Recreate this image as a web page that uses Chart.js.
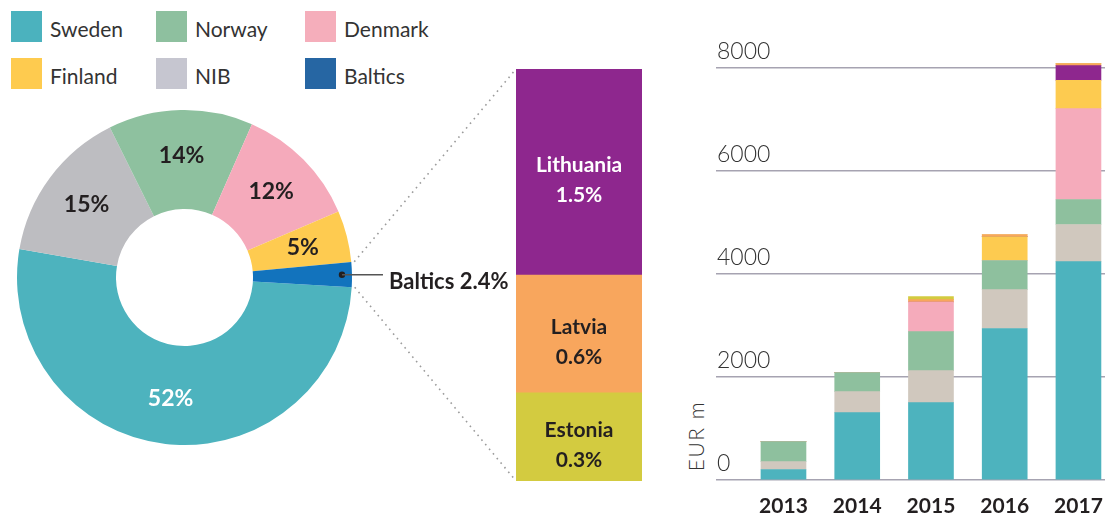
<!DOCTYPE html>
<html>
<head>
<meta charset="utf-8">
<script src="https://cdn.jsdelivr.net/npm/chart.js@4.4.1/dist/chart.umd.min.js"></script>
<style>
  html, body { margin: 0; padding: 0; background: #fff; overflow: hidden; }
  #page { position: relative; width: 1105px; height: 515px; font-family: Lato, "Open Sans", sans-serif; }
  canvas { position: absolute; }
  .item { position: absolute; height: 31px; display: flex; align-items: center; font-size: 21px; color: #333; white-space: nowrap; }
  .item .box { width: 31px; height: 31px; margin-right: 8px; }
  .item .txt { padding-top: 3px; }
  #unit { position: absolute; left: 695px; top: 436px; transform: translate(-50%, -50%) rotate(-90deg); font-size: 21px; font-weight: 300; letter-spacing: 1.5px; color: #333; white-space: nowrap; }
</style>
</head>
<body>
<div id="page">
  <div id="legend"></div>
  <canvas id="pie" width="520" height="370" style="left:0;top:100px"></canvas>
  <canvas id="baltic" width="320" height="460" style="left:340px;top:40px"></canvas>
  <canvas id="bars" width="391" height="515" style="left:714px;top:0"></canvas>
  <div id="unit">EUR m</div>
</div>
<script>
// legend
const legendLabels = ["Sweden", "Norway", "Denmark", "Finland", "NIB", "Baltics"];
const legendColors = ["#4bb2be", "#8ec09f", "#f5aebb", "#fecb4f", "#c6c6d0", "#2666a3"];

// doughnut, share in %
const shareLabels = ["Sweden", "NIB", "Norway", "Denmark", "Finland", "Baltics"];
const shareValues = [52, 15, 14, 12, 5, 2.4];
const shareColors = ["#4db3be", "#bdbdc1", "#8ec19f", "#f5aabb", "#fecb50", "#1273bd"];

// baltic breakdown (the segments in the picture are not drawn to scale)
const balticLabels = ["Estonia", "Latvia", "Lithuania"];
const balticValues = [0.3, 0.6, 1.5];
const balticDrawn = [21.4, 28.6, 50.0];
const balticColors = ["#d3cb40", "#f8a65d", "#8e278e"];

// yearly stacked bars, EUR m
const years = [2013, 2014, 2015, 2016, 2017];
const sweden    = [200, 1305, 1500, 2940, 4240];
const nib       = [155, 410, 620, 755, 720];
const norway    = [390, 370, 760, 565, 485];
const denmark   = [0, 0, 575, 0, 1765];
const finland   = [0, 0, 0, 465, 550];
const lithuania = [0, 0, 0, 0, 285];
const latvia    = [0, 0, 45, 40, 40];
const estonia   = [0, 0, 58, 0, 0];
const yTicks = [0, 2000, 4000, 6000, 8000];

// build the html legend
const legendEl = document.getElementById("legend");
legendLabels.forEach((name, i) => {
    const div = document.createElement("div");
    div.className = "item";
    div.style.left = (11 + [0, 145, 294][i % 3]) + "px";
    div.style.top = (11 + Math.floor(i / 3) * 47) + "px";
    div.innerHTML = '<span class="box" style="background:' + legendColors[i] + '"></span><span class="txt">' + name + "</span>";
    legendEl.appendChild(div);
});

let pieChart = null;

function build() {
    // percent labels and the Baltics callout on the doughnut
    const pieLabels = {
        id: "pieLabels",
        afterDatasetsDraw(chart) {
            const ctx = chart.ctx;
            const meta = chart.getDatasetMeta(0);
            ctx.save();
            meta.data.forEach((arc, i) => {
                const p = arc.getProps(["x", "y", "startAngle", "endAngle", "innerRadius", "outerRadius"], true);
                const mid = (p.startAngle + p.endAngle) / 2;
                if (shareLabels[i] === "Baltics") {
                    const r = p.outerRadius - 10;
                    const dx = p.x + Math.cos(mid) * r;
                    const dy = p.y + Math.sin(mid) * r;
                    ctx.fillStyle = "#231f20";
                    ctx.beginPath();
                    ctx.arc(dx, dy, 3.2, 0, Math.PI * 2);
                    ctx.fill();
                    ctx.strokeStyle = "#555";
                    ctx.lineWidth = 1.5;
                    ctx.beginPath();
                    ctx.moveTo(dx, dy);
                    ctx.lineTo(dx + 41, dy);
                    ctx.stroke();
                    ctx.font = "bold 22px Lato";
                    ctx.textAlign = "left";
                    ctx.textBaseline = "alphabetic";
                    ctx.fillText(shareLabels[i] + " " + shareValues[i] + "%", dx + 47, dy + 14);
                } else {
                    const r = (p.innerRadius + p.outerRadius) / 2 + 4;
                    ctx.font = "bold 23px Lato";
                    ctx.textAlign = "center";
                    ctx.textBaseline = "middle";
                    ctx.fillStyle = i === 0 ? "#fff" : "#231f20";
                    ctx.fillText(shareValues[i] + "%", p.x + Math.cos(mid) * r, p.y + Math.sin(mid) * r);
                }
            });
            ctx.restore();
        }
    };

    pieChart = new Chart(document.getElementById("pie"), {
        type: "doughnut",
        data: {
            labels: shareLabels,
            datasets: [{ data: shareValues, backgroundColor: shareColors, borderWidth: 0 }]
        },
        options: {
            responsive: false,
            animation: false,
            events: [],
            rotation: 93.3,
            cutout: "40.9%",
            layout: { padding: { left: 17, right: 168, top: 10, bottom: 25 } },
            plugins: { legend: { display: false }, tooltip: { enabled: false } }
        },
        plugins: [pieLabels]
    });

    // dotted connectors and segment labels on the baltic bar
    const balticDecor = {
        id: "balticDecor",
        afterDatasetsDraw(chart) {
            const ctx = chart.ctx;
            ctx.save();
            // connectors from the Baltics slice to the bar corners
            const arcs = pieChart.getDatasetMeta(0).data;
            const arc = arcs[shareLabels.indexOf("Baltics")];
            const p = arc.getProps(["x", "y", "startAngle", "endAngle", "outerRadius"], true);
            const pr = pieChart.canvas.getBoundingClientRect();
            const br = chart.canvas.getBoundingClientRect();
            const ox = pr.left - br.left, oy = pr.top - br.top;
            const topBar = chart.getDatasetMeta(balticLabels.length - 1).data[0];
            const lowBar = chart.getDatasetMeta(0).data[0];
            const r = p.outerRadius + 3;
            const lines = [
                [p.startAngle, topBar.x - topBar.width / 2, topBar.y],
                [p.endAngle, lowBar.x - lowBar.width / 2, lowBar.base]
            ];
            ctx.strokeStyle = "#9b9b9b";
            ctx.lineWidth = 1.6;
            ctx.setLineDash([1.6, 4.4]);
            lines.forEach(l => {
                ctx.beginPath();
                ctx.moveTo(ox + p.x + Math.cos(l[0]) * r, oy + p.y + Math.sin(l[0]) * r);
                ctx.lineTo(l[1], l[2]);
                ctx.stroke();
            });
            ctx.setLineDash([]);
            // labels
            ctx.font = "bold 21px Lato";
            ctx.textAlign = "center";
            ctx.textBaseline = "middle";
            balticLabels.forEach((name, i) => {
                const bar = chart.getDatasetMeta(i).data[0];
                const cy = (bar.y + bar.base) / 2 + 8;
                ctx.fillStyle = name === "Lithuania" ? "#fff" : "#231f20";
                ctx.fillText(name, bar.x, cy - 15);
                ctx.fillText(balticValues[i] + "%", bar.x, cy + 15);
            });
            ctx.restore();
        }
    };

    new Chart(document.getElementById("baltic"), {
        type: "bar",
        data: {
            labels: ["Baltics"],
            datasets: balticLabels.map((name, i) => ({
                label: name,
                data: [balticDrawn[i]],
                backgroundColor: balticColors[i],
                borderWidth: 0,
                barPercentage: 1,
                categoryPercentage: 1
            }))
        },
        options: {
            responsive: false,
            animation: false,
            events: [],
            layout: { padding: { left: 176, right: 18, top: 29, bottom: 19 } },
            scales: {
                x: { display: false, stacked: true },
                y: { display: false, stacked: true, min: 0, max: 100 }
            },
            plugins: { legend: { display: false }, tooltip: { enabled: false } }
        },
        plugins: [balticDecor]
    });

    const series = [
        ["Sweden", sweden, "#4db3be"],
        ["NIB", nib, "#d0c8be"],
        ["Norway", norway, "#8ec09e"],
        ["Denmark", denmark, "#f5abbb"],
        ["Finland", finland, "#fdcb50"],
        ["Lithuania", lithuania, "#8e278e"],
        ["Latvia", latvia, "#f8a65d"],
        ["Estonia", estonia, "#d3cb40"]
    ];

    new Chart(document.getElementById("bars"), {
        type: "bar",
        data: {
            datasets: series.map(s => ({
                label: s[0],
                data: years.map((yr, i) => ({ x: yr, y: s[1][i] })),
                backgroundColor: s[2],
                borderWidth: 0,
                barThickness: 45,
                clip: false
            }))
        },
        options: {
            responsive: false,
            animation: false,
            events: [],
            layout: { padding: { left: 0, right: 0, top: 68, bottom: -17 } },
            scales: {
                x: {
                    type: "linear",
                    stacked: true,
                    offset: false,
                    min: 2012.085,
                    max: 2017.36,
                    grid: { display: false, drawTicks: false },
                    border: { display: false },
                    afterBuildTicks: s => { s.ticks = years.map(v => ({ value: v })); },
                    afterFit: s => { s.paddingLeft = 0; s.paddingRight = 0; },
                    ticks: {
                        autoSkip: false,
                        maxRotation: 0,
                        padding: 16,
                        color: "#231f20",
                        font: { family: "Lato", weight: "bold", size: 21, lineHeight: 0.96 },
                        callback: v => String(v)
                    }
                },
                y: {
                    stacked: true,
                    min: 0,
                    max: 8000,
                    afterBuildTicks: s => { s.ticks = yTicks.map(v => ({ value: v })); },
                    grid: { color: "#a6a3b1", lineWidth: 1.5, drawTicks: false },
                    border: { display: false },
                    ticks: {
                        mirror: true,
                        padding: 1,
                        labelOffset: -16,
                        color: "#333",
                        font: { family: "Lato", weight: 300, size: 23 },
                        callback: v => String(v)
                    }
                }
            },
            plugins: { legend: { display: false }, tooltip: { enabled: false } }
        }
    });
}

Promise.all([
    document.fonts.load("bold 22px Lato"),
    document.fonts.load("300 23px Lato"),
    document.fonts.load("21px Lato")
]).then(build, build);
</script>
</body>
</html>
